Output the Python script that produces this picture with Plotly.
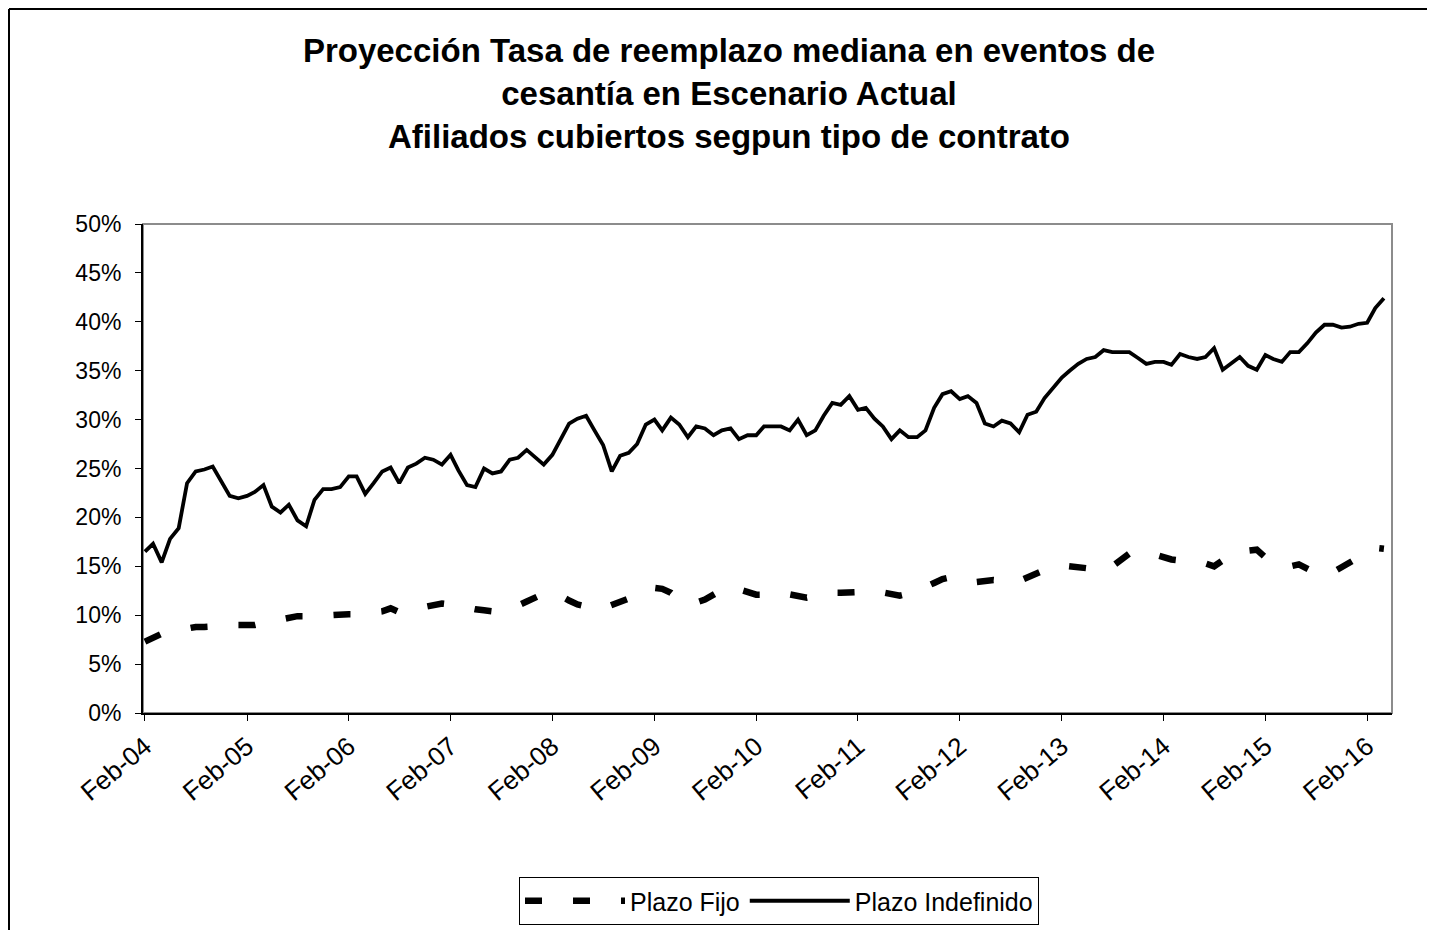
import pandas as pd
import plotly.graph_objects as go

# Monthly series Feb-2004 .. Apr-2016 (147 months)
months = pd.date_range("2004-02-01", periods=147, freq="MS")

plazo_indefinido = [
    16.5, 17.3, 15.4, 17.8, 18.9, 23.5, 24.7, 24.9, 25.2, 23.7,
    22.2, 21.95, 22.2, 22.6, 23.3, 21.1, 20.5, 21.3, 19.7, 19.1,
    21.8, 22.9, 22.9, 23.1, 24.2, 24.2, 22.4, 23.5, 24.7, 25.1,
    23.5, 25.1, 25.5, 26.1, 25.9, 25.4, 26.4,
    24.8, 23.3, 23.1, 25.0, 24.5, 24.7, 25.9, 26.1, 26.9, 26.1,
    25.4, 26.4, 28.0, 29.6, 30.1, 30.4, 28.9, 27.4, 24.7, 26.3,
    26.6, 27.5, 29.5, 30.0, 28.9, 30.2, 29.5, 28.2, 29.3, 29.1,
    28.4, 28.9, 29.1, 28.0, 28.4,
    28.4, 29.3, 29.3, 29.3, 28.9, 30.0, 28.4, 28.9, 30.4, 31.7,
    31.5, 32.4, 31.0, 31.2, 30.1, 29.3, 28.0, 28.9, 28.2, 28.2,
    28.9, 31.2, 32.6, 32.9, 32.1, 32.4, 31.7, 29.6, 29.3, 29.9,
    29.6, 28.7,
    30.5, 30.8, 32.2, 33.2, 34.3, 35.0, 35.7, 36.2, 36.4,
    37.1, 36.9, 36.9, 36.9, 36.3, 35.7, 35.9, 35.9, 35.6, 36.7,
    36.4, 36.2, 36.4, 37.3, 35.1, 35.7, 36.4, 35.5, 35.1, 36.6,
    36.2, 35.9, 36.9, 36.9, 37.8, 38.9, 39.7, 39.7, 39.4, 39.5,
    39.8, 39.9, 41.4, 42.4,
]

plazo_fijo = [
    7.3, 7.7, 8.1, 8.3, 8.5, 8.7, 8.8, 8.8, 8.8, 8.9,
    9.0, 9.0, 9.0, 9.0, 9.2, 9.4, 9.6, 9.8, 9.9, 9.9,
    10.0, 10.0, 10.0, 10.1, 10.1, 10.1, 10.2, 10.3, 10.4, 10.7,
    10.3, 10.5, 10.7, 10.9, 11.0, 11.2, 11.1, 10.9, 10.8, 10.6,
    10.5, 10.4, 10.5, 10.7, 11.0, 11.4, 11.8, 12.2, 12.3, 12.0,
    11.5, 11.1, 10.9, 10.6, 10.7, 11.0, 11.3, 11.7, 12.3, 12.6,
    12.8, 12.7, 12.3, 11.6, 11.3, 11.3, 11.6, 12.1, 12.6, 12.9,
    12.6, 12.3, 12.1, 12.1, 12.3, 12.3, 12.1, 11.9, 11.8, 12.0,
    12.2, 12.3, 12.3, 12.3, 12.3, 12.4, 12.5, 12.3, 12.1, 12.0,
    12.2, 12.5, 12.9, 13.3, 13.7, 13.9, 13.6, 13.4, 13.4, 13.5,
    13.6, 13.5, 13.3, 13.5, 13.9, 14.3, 14.6, 15.0, 15.1, 15.0,
    14.9, 14.8, 14.7, 14.6, 15.0, 15.7, 16.3, 16.4, 16.4, 16.2,
    15.9, 15.7, 15.6, 15.6, 15.5, 15.3, 15.0, 15.6, 16.3, 16.5,
    16.6, 16.7, 15.9, 15.4, 15.3, 15.0, 15.2, 14.7, 14.3, 14.2,
    14.4, 14.9, 15.4, 15.8, 16.3, 16.9, 16.8,
]

tick_dates = pd.date_range("2004-02-01", "2016-02-01", freq="12MS")
tick_labels = ["Feb-04", "Feb-05", "Feb-06", "Feb-07", "Feb-08", "Feb-09", "Feb-10",
               "Feb-11", "Feb-12", "Feb-13", "Feb-14", "Feb-15", "Feb-16"]

y_ticks = [0, 0.05, 0.10, 0.15, 0.20, 0.25, 0.30, 0.35, 0.40, 0.45, 0.50]

FONT = "Liberation Sans, Arial, sans-serif"

fig = go.Figure()
fig.add_trace(go.Scatter(
    x=months, y=[v / 100 for v in plazo_fijo], mode="lines", name="Plazo Fijo",
    line=dict(color="black", width=6.5, dash="17px,31px"),
))
fig.add_trace(go.Scatter(
    x=months, y=[v / 100 for v in plazo_indefinido], mode="lines", name="Plazo Indefinido",
    line=dict(color="black", width=3.8),
))

# The page body adds an 8px offset; figure coords = page coords - 8
OFF = 8
W, H = 1435, 930
PL, PR, PT, PB = 143, 1392, 224, 713          # plot area in page pixels
L, R, T, B = PL - OFF, PR - OFF, PT - OFF, PB - OFF


def px2x(px):
    return (px - PL) / (PR - PL)


def px2y(py):
    return (PB - py) / (PB - PT)


fig.update_layout(
    width=W, height=H,
    margin=dict(l=L, r=W - R, t=T, b=H - B, pad=0),
    paper_bgcolor="white", plot_bgcolor="white",
    font=dict(family=FONT, color="black"),
    title=dict(
        text="<b>Proyección Tasa de reemplazo mediana en eventos de<br>"
             "cesantía en Escenario Actual<br>"
             "Afiliados cubiertos segpun tipo de contrato</b>",
        font=dict(family=FONT, size=33, color="black"),
        x=(729 - OFF) / W, xanchor="center", xref="container",
        y=1 - 54 / H, yanchor="top", yref="container",
    ),
    xaxis=dict(
        range=["2004-01-25", "2016-04-30"],
        tickvals=tick_dates, ticktext=tick_labels, tickangle=-40,
        tickfont=dict(family=FONT, size=26),
        showgrid=False, zeroline=False,
        showline=True, linecolor="black", linewidth=2,
        ticks="outside", ticklen=6, tickcolor="black", tickwidth=1,
    ),
    yaxis=dict(
        range=[0, 0.5], tickvals=y_ticks, tickformat=".0%",
        tickfont=dict(family=FONT, size=23),
        ticklabelstandoff=9,
        showgrid=False, zeroline=False,
        showline=True, linecolor="black", linewidth=2,
        ticks="outside", ticklen=6, tickcolor="black", tickwidth=1,
    ),
    legend=dict(
        orientation="h", x=px2x(779), xanchor="center", y=px2y(877), yanchor="top",
        bordercolor="black", borderwidth=1, bgcolor="white",
        font=dict(family=FONT, size=25), itemwidth=100,
    ),
    showlegend=True,
    shapes=[
        dict(type="rect", xref="paper", yref="paper", x0=0, x1=1, y0=0, y1=1,
             line=dict(color="#8c8c8c", width=2), layer="below"),
        dict(type="line", xref="paper", yref="paper",
             x0=px2x(OFF + 1), x1=px2x(OFF + 1), y0=px2y(940), y1=px2y(OFF + 1),
             line=dict(color="black", width=2)),
        dict(type="line", xref="paper", yref="paper",
             x0=px2x(OFF + 1), x1=px2x(1445), y0=px2y(OFF + 1), y1=px2y(OFF + 1),
             line=dict(color="black", width=2)),
    ],
)

fig.write_html("out.html")
